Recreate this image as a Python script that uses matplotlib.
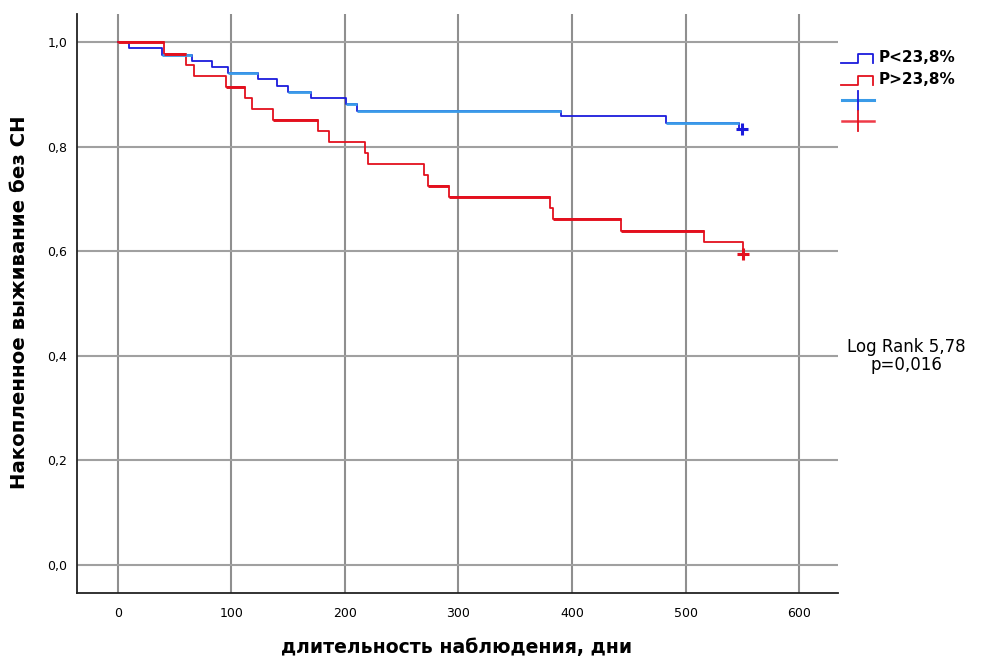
import numpy as np
import matplotlib
matplotlib.use("Agg")
import matplotlib.pyplot as plt

# Kaplan-Meier steps
blue_t = [0, 10, 39, 65, 83, 97, 123, 140, 150, 170, 201, 211, 390, 483, 547]
blue_s = [1.0, 0.988, 0.976, 0.965, 0.953, 0.941, 0.929, 0.917, 0.905, 0.893,
          0.881, 0.869, 0.858, 0.845, 0.833]
blue_end = 550
# intervals drawn in light blue (censored stretches)
blue_light = [2, 5, 8, 10, 11, 13]

red_t = [0, 41, 60, 67, 95, 112, 118, 137, 176, 186, 218, 220, 270, 273, 292,
         381, 383, 443, 516, 551]
red_s = [1.0, 0.978, 0.957, 0.936, 0.915, 0.893, 0.872, 0.851, 0.830, 0.809,
         0.788, 0.767, 0.745, 0.724, 0.703, 0.682, 0.661, 0.639, 0.617, 0.595]
red_end = 551
red_thick = [0, 1, 4, 7, 13, 14, 16, 17]

x_ticks = [0, 100, 200, 300, 400, 500, 600]
y_ticks = [0.0, 0.2, 0.4, 0.6, 0.8, 1.0]
group_labels = ["P<23,8%", "P>23,8%"]
stat_text = "Log Rank 5,78\np=0,016"

BLUE = "#1b1bdc"
LBLUE = "#3a9be8"
RED = "#e3101e"
LRED = "#ef3a48"
GRID = "#a0a0a0"

plt.rcParams['font.family'] = ['DejaVu Sans']

fig = plt.figure(figsize=(9.91, 6.57), dpi=100)
ax = fig.add_axes([0.0777, 0.0974, 0.8453 - 0.0777, 0.9787 - 0.0974])


def km_xy(t, s, end):
    xs = list(t) + [end]
    ys = list(s) + [s[-1]]
    return xs, ys


for v in x_ticks:
    ax.axvline(v, color='#8f8f8f', lw=1.5, zorder=1)
for v in y_ticks:
    ax.axhline(v, color=GRID, lw=1.5, zorder=1)

bx, by = km_xy(blue_t, blue_s, blue_end)
ax.step(bx, by, where='post', color=BLUE, lw=1.3, zorder=3)
for i in blue_light:
    ax.plot([bx[i], bx[i + 1]], [by[i], by[i]], color=LBLUE, lw=2.0,
            solid_capstyle='butt', zorder=4)
ax.plot([blue_end], [blue_s[-1]], marker='+', ms=9, mew=2.2, color=BLUE, zorder=5)

rx, ry = km_xy(red_t, red_s, red_end)
ax.step(rx, ry, where='post', color=RED, lw=1.3, zorder=3)
for i in red_thick:
    ax.plot([rx[i], rx[i + 1]], [ry[i], ry[i]], color=RED, lw=2.1,
            solid_capstyle='butt', zorder=4)
ax.plot([red_end], [red_s[-1]], marker='+', ms=9, mew=2.2, color=RED, zorder=5)

ax.set_xlim(-36, 634)
ax.set_ylim(-0.054, 1.054)
ax.set_xticks(x_ticks)
ax.set_yticks(y_ticks)
ax.set_yticklabels([f"{v:.1f}".replace('.', ',') for v in y_ticks])
ax.tick_params(length=0, labelsize=9, pad=7)
ax.tick_params(axis='x', pad=10)
for sp in ['top', 'right']:
    ax.spines[sp].set_visible(False)
for sp in ['left', 'bottom']:
    ax.spines[sp].set_linewidth(1.3)
    ax.spines[sp].set_color('#222222')

fig.text(457 / 991, 1 - 647 / 657, "длительность наблюдения, дни", fontsize=13.6,
         fontweight='bold', ha='center', va='center')
fig.text(20 / 991, 1 - 302 / 657, "Накопленное выживание без СН", fontsize=14.2,
         fontweight='bold', ha='center', va='center', rotation=90)

# legend drawn in figure pixel space
lg = fig.add_axes([0, 0, 1, 1], facecolor='none')
lg.set_xlim(0, 991)
lg.set_ylim(657, 0)
lg.axis('off')
for k, (lab, col) in enumerate(zip(group_labels, [BLUE, RED])):
    y0 = 62.5 + k * 22
    lg.plot([841, 858, 858, 873, 873], [y0, y0, y0 - 9, y0 - 9, y0], color=col, lw=1.3)
    lg.text(879, y0 - 4.5, lab, fontsize=11, fontweight='bold', va='center', ha='left')
lg.plot([842, 874], [100, 100], color=LBLUE, lw=2.2)
lg.plot([858, 858], [91, 110], color=BLUE, lw=1.3)
lg.plot([842, 874], [120.5, 120.5], color=LRED, lw=1.8)
lg.plot([858, 858], [111, 131], color=RED, lw=1.3)

fig.text(906 / 991, 1 - 356 / 657, stat_text, fontsize=12, ha='center', va='center',
         linespacing=1.0)

fig.savefig("out.png", dpi=100)
